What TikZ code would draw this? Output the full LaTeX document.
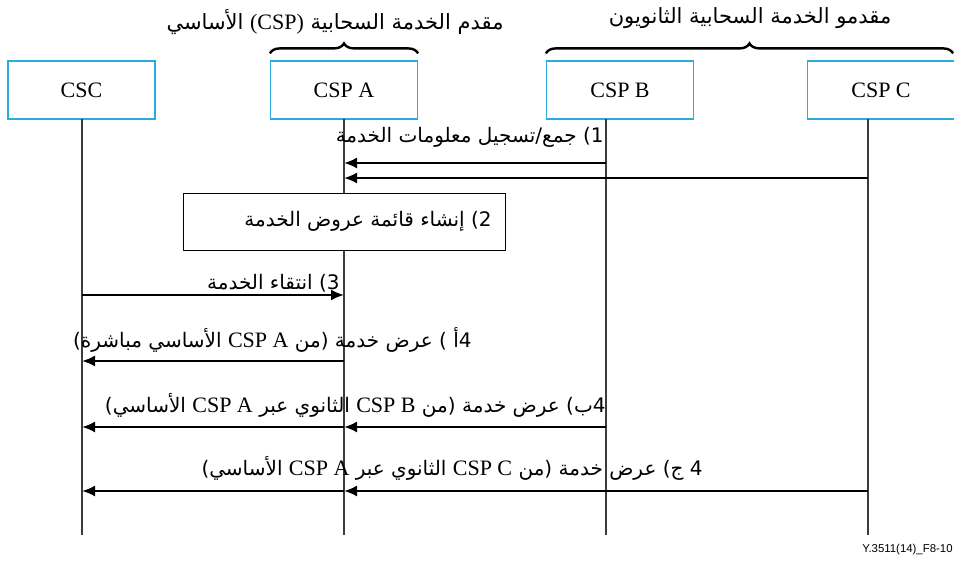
\documentclass[tikz,border=0pt]{standalone}
\usepackage{fontspec}
\setmainfont{Liberation Serif}
\setsansfont{Liberation Sans}
\newfontfamily\arabicfont[Script=Arabic]{DejaVu Sans}
\TeXXeTstate=1
\definecolor{csblue}{RGB}{41,171,226}
\definecolor{lifegray}{RGB}{60,60,60}
\usetikzlibrary{arrows.meta,positioning,decorations.pathreplacing}
\newcommand{\artext}[1]{{\arabicfont\beginR #1\endR}}
\newcommand{\latinpart}[1]{\beginL{\rmfamily\fontsize{11}{13}\selectfont #1}\endL}

\begin{document}
\begin{tikzpicture}[x=0.5pt,y=-0.5pt,
    actor/.style={rectangle, draw=csblue, line width=0.6pt, minimum width=73.5pt,
                  minimum height=29pt, inner sep=0pt, font=\fontsize{11}{13}\selectfont},
    life/.style={draw=lifegray, line width=0.6pt},
    msg/.style={-{Latex[length=6.5pt,width=5.5pt]}, line width=1pt},
    lbl/.style={anchor=east, inner sep=0pt, font=\fontsize{10}{12}\selectfont},
    bracelbl/.style={inner sep=0pt, font=\fontsize{10.5}{12}\selectfont},
    grp/.style={decorate, decoration={brace, amplitude=5pt}, line width=1.2pt}]
  \useasboundingbox (0,0) rectangle (954,562);
  % actors
  \node[actor] (csc) at (81.5,90) {CSC};
  \node[actor] (cspa) at (344,90) {CSP A};
  \node[actor] (cspb) at (620,90) {CSP B};
  \node[actor] (cspc) at (881,90) {CSP C};
  % lifelines
  \coordinate (lcsc) at (82,119);
  \coordinate (lcspa) at (344,119);
  \coordinate (lcspb) at (606,119);
  \coordinate (lcspc) at (868,119);
  \coordinate (bottom) at (0,535);
  \foreach \l in {lcsc,lcspa,lcspb,lcspc}
    \draw[life] (\l) -- (\l |- bottom);
  % braces
  \draw[grp] ([yshift=3.5pt]cspa.north west) -- ([yshift=3.5pt]cspa.north east);
  \draw[grp] ([yshift=3.5pt]cspb.north west) -- ([yshift=3.5pt,xshift=-1pt]cspc.north east);
  \node[bracelbl] (primary) at (335,22)
    {\artext{مقدم الخدمة السحابية \latinpart{(CSP)} الأساسي}};
  \node[bracelbl] (secondary) at (750,18)
    {\artext{مقدمو الخدمة السحابية الثانويون}};
  % 1) collect
  \node[lbl] (collect) at (604,137) {\artext{1) جمع/تسجيل معلومات الخدمة}};
  \coordinate (m1) at (0,163);
  \coordinate (m2) at (0,178);
  \draw[msg] (lcspb |- m1) -- (lcspa |- m1);
  \draw[msg] (lcspc |- m2) -- (lcspa |- m2);
  % 2) list
  \node[rectangle, draw, fill=white, line width=0.5pt, minimum width=161pt,
        minimum height=28.5pt] (listbox) at (344,221.5) {};
  \node[lbl] (listtxt) at (492,221) {\artext{2) إنشاء قائمة عروض الخدمة}};
  % 3) select
  \node[lbl] (select) at (340,283) {\artext{3) انتقاء الخدمة}};
  \coordinate (m3) at (0,295);
  \draw[msg] (lcsc |- m3) -- (lcspa |- m3);
  % 4) offers
  \node[lbl] (offera) at (472,340)
    {\artext{4أ ) عرض خدمة (من \latinpart{CSP A} الأساسي مباشرة)}};
  \coordinate (m4) at (0,361);
  \draw[msg] (lcspa |- m4) -- (lcsc |- m4);
  \node[lbl] (offerb) at (606,405)
    {\artext{4ب) عرض خدمة (من \latinpart{CSP B} الثانوي عبر \latinpart{CSP A} الأساسي)}};
  \coordinate (m5) at (0,427);
  \draw[msg] (lcspb |- m5) -- (lcspa |- m5);
  \draw[msg] (lcspa |- m5) -- (lcsc |- m5);
  \node[lbl] (offerc) at (703,468)
    {\artext{4 ج) عرض خدمة (من \latinpart{CSP C} الثانوي عبر \latinpart{CSP A} الأساسي)}};
  \coordinate (m6) at (0,491);
  \draw[msg] (lcspc |- m6) -- (lcspa |- m6);
  \draw[msg] (lcspa |- m6) -- (lcsc |- m6);
  % figure id
  \node[anchor=south east, inner sep=0pt, font=\sffamily\fontsize{5.7}{7}\selectfont]
    (figid) at (953,555) {Y.3511(14)\_F8-10};
\end{tikzpicture}
\end{document}
